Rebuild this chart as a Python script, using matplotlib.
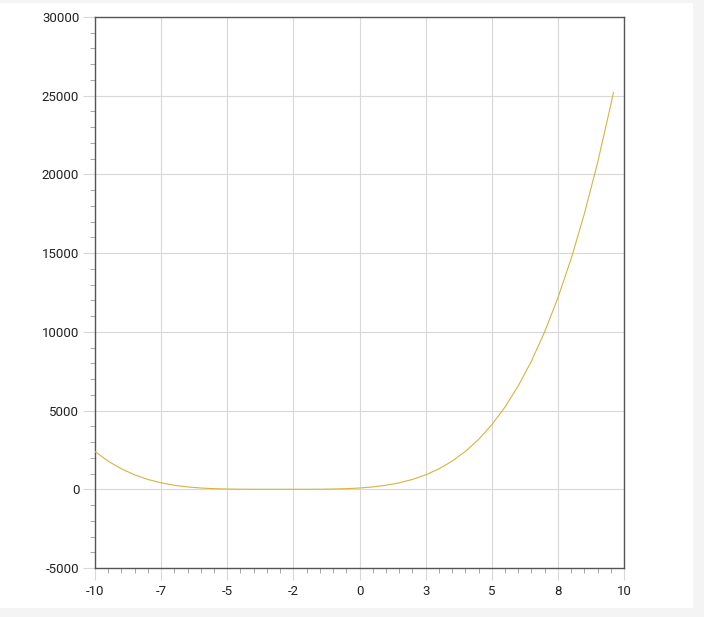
import matplotlib
matplotlib.use("Agg")
import matplotlib.pyplot as plt
from matplotlib.patches import Rectangle

# values
xs = [-10, -9.5, -9, -8.5, -8, -7.5, -7, -6.5, -6, -5.5, -5, -4.5, -4, -3.5, -3,
      -2.5, -2, -1.5, -1, -0.5, 0, 0.5, 1, 1.5, 2, 2.5, 3, 3.5, 4, 4.5, 5, 5.5,
      6, 6.5, 7, 7.5, 8, 8.5, 9, 9.5, 9.6]
ys = [2400, 1785, 1295, 915, 625, 410, 255, 150, 80, 40, 16, 5, 1, 0, 0,
      0, 1, 4, 16, 40, 80, 150, 255, 410, 625, 915, 1295, 1785, 2400, 3165, 4095, 5220,
      6560, 8145, 10000, 12155, 14640, 17490, 20735, 24415, 25205]

xticks = [-10, -7.5, -5, -2.5, 0, 2.5, 5, 7.5, 10]
xticklabels = ['-10', '-7', '-5', '-2', '0', '3', '5', '8', '10']
yticks = [-5000, 0, 5000, 10000, 15000, 20000, 25000, 30000]

plt.rcParams['font.family'] = ['Roboto', 'DejaVu Sans']

fig = plt.figure(figsize=(7.04, 6.17), dpi=100)
fig.patch.set_facecolor('#f4f4f4')
fig.patches.append(Rectangle((0, 9 / 617), 693 / 704, 1 - 12 / 617,
                             transform=fig.transFigure, facecolor='white',
                             edgecolor='none', zorder=-10))

ax = fig.add_axes([95 / 704, 1 - 568 / 617, 529 / 704, 551 / 617])
ax.plot(xs, ys, color='#d6b43e', lw=0.8, zorder=3)

ax.set_xlim(-10, 10)
ax.set_ylim(-5000, 30000)
ax.set_xticks(xticks)
ax.set_xticklabels(xticklabels)
ax.set_yticks(yticks)
ax.set_yticklabels([str(v) for v in yticks])
ax.set_xticks([x / 2 for x in range(-20, 21)], minor=True)
ax.set_yticks(list(range(-5000, 30001, 1000)), minor=True)

ax.grid(True, which='major', color='#d8d8d8', lw=0.8)
ax.set_axisbelow(True)
ax.tick_params(which='major', length=8.5, width=0.8, color='#d8d8d8',
               labelsize=9.5, labelcolor='#222222')
ax.tick_params(axis='x', which='major', pad=4)
ax.tick_params(axis='y', which='major', pad=2.8)
ax.tick_params(which='minor', length=3.5, width=0.7, color='#aaaaaa')
for s in ax.spines.values():
    s.set_color('#555555')
    s.set_linewidth(1.0)

fig.savefig('out.png', dpi=100, facecolor=fig.get_facecolor())
